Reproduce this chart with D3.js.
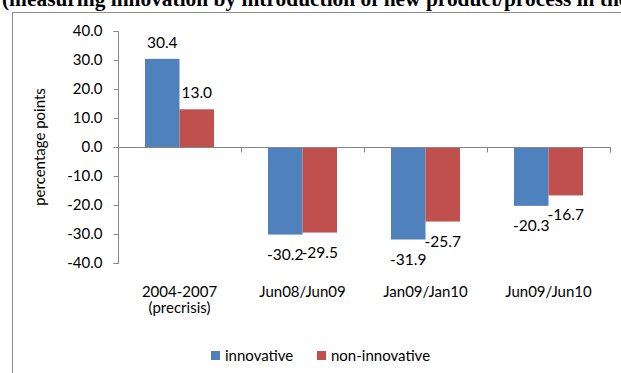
<!DOCTYPE html>
<html><head><meta charset="utf-8">
<script src="https://cdn.jsdelivr.net/npm/d3@7"></script>
<style>body{margin:0;background:#fff}svg{display:block}</style>
</head><body>
<svg id="c" width="621" height="373"></svg>
<script>
const titleText = "(measuring innovation by introduction of new product/process in the";
const categories = ["2004-2007\n(precrisis)", "Jun08/Jun09", "Jan09/Jan10", "Jun09/Jun10"];
const seriesNames = ["innovative", "non-innovative"];
const innovative = [30.4, -30.2, -31.9, -20.3];
const nonInnovative = [13.0, -29.5, -25.7, -16.7];
const yTicks = [40, 30, 20, 10, 0, -10, -20, -30, -40];
const colors = ["#4F81BD", "#C0504D"];

const svg = d3.select("#c");
const font = "Lato, 'Open Sans', sans-serif";
const axisColor = "#868686";
const fmt = v => d3.format(".1f")(v).replace("\u2212", "-");

// title (clipped at top)
svg.append("text").attr("x", 2).attr("y", 5.5)
  .attr("font-family", "'Liberation Serif', 'Times New Roman', serif")
  .attr("font-weight", "bold").attr("font-size", 21.4).attr("fill", "#000")
  .text(titleText);

// chart border
svg.append("path").attr("d", "M12.5,380V12.5H630")
  .attr("fill", "none").attr("stroke", "#8c8c8c").attr("stroke-width", 1);

const y = d3.scaleLinear().domain([-40, 40]).range([263, 31]);
const x0 = d3.scaleBand().domain(categories).range([118, 610]).padding(0);
const x1 = d3.scaleBand().domain(seriesNames).range([27, x0.bandwidth() - 27]).padding(0);

const data = categories.map((c, i) => ({cat: c, vals: [innovative[i], nonInnovative[i]]}));

// y axis
const yAxis = d3.axisLeft(y).tickValues(yTicks).tickSize(5).tickPadding(11).tickFormat(fmt);
const gy = svg.append("g").attr("transform", "translate(118.5,0)").call(yAxis);
gy.select(".domain").attr("stroke", axisColor).attr("d", `M-5,${y(40)+0.5}H0V${y(-40)+0.5}H-5`);
gy.selectAll(".tick line").attr("stroke", axisColor);
gy.selectAll(".tick text").attr("font-family", font).attr("font-size", 15).attr("fill", "#000");

// bars
const groups = svg.append("g").selectAll("g").data(data).join("g")
  .attr("transform", d => `translate(${x0(d.cat)},0)`);
groups.selectAll("rect").data(d => d.vals.map((v, k) => ({v, k}))).join("rect")
  .attr("x", d => x1(seriesNames[d.k]))
  .attr("width", x1.bandwidth())
  .attr("y", d => Math.min(y(d.v), y(0)))
  .attr("height", d => Math.abs(y(d.v) - y(0)))
  .attr("fill", d => colors[d.k]);

// value labels
groups.selectAll("text.val").data(d => d.vals.map((v, k) => ({v, k}))).join("text")
  .attr("class", "val")
  .attr("x", d => x1(seriesNames[d.k]) + x1.bandwidth() / 2)
  .attr("y", d => d.v >= 0 ? y(d.v) - 11 : y(d.v) + 25)
  .attr("text-anchor", "middle")
  .attr("font-family", font).attr("font-size", 15.5).attr("fill", "#000")
  .text(d => fmt(d.v));

// x axis at zero
const xAxis = d3.axisBottom(x0).tickSize(5).tickFormat("");
const gx = svg.append("g").attr("transform", `translate(0,${y(0)+0.5})`).call(xAxis);
gx.select(".domain").attr("stroke", axisColor).attr("d", `M118,0H610.5V5`);
gx.selectAll(".tick").remove();
const bounds = categories.map((c) => x0(c) + x0.bandwidth());
gx.selectAll("line.b").data(bounds).join("line").attr("class", "b")
  .attr("x1", d => Math.round(d) + 0.5).attr("x2", d => Math.round(d) + 0.5)
  .attr("y1", 0).attr("y2", 5).attr("stroke", axisColor);

// category labels
svg.append("g").selectAll("text").data(categories).join("text")
  .attr("x", d => x0(d) + x0.bandwidth() / 2)
  .attr("y", 297)
  .attr("text-anchor", "middle")
  .attr("font-family", font).attr("font-size", 15).attr("fill", "#000")
  .each(function(d) {
    const lines = d.split("\n");
    d3.select(this).selectAll("tspan").data(lines).join("tspan")
      .attr("x", x0(d) + x0.bandwidth() / 2)
      .attr("dy", (l, i) => i === 0 ? 0 : 16)
      .text(l => l);
  });

// y label
svg.append("text").attr("transform", "translate(45,147) rotate(-90)")
  .attr("text-anchor", "middle").attr("font-family", font).attr("font-size", 15)
  .attr("fill", "#000").text("percentage points");

// legend
const legendX = [211, 317];
const lg = svg.append("g").selectAll("g").data(seriesNames).join("g")
  .attr("transform", (d, i) => `translate(${legendX[i]},351)`);
lg.append("rect").attr("width", 9).attr("height", 9).attr("fill", (d, i) => colors[i]);
lg.append("text").attr("x", 14).attr("y", 10)
  .attr("font-family", font).attr("font-size", 15).attr("fill", "#000").text(d => d);
</script>
</body></html>
